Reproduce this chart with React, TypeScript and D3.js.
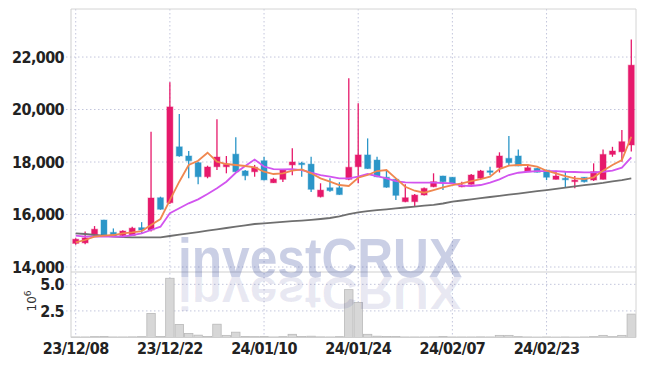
import React from "react";
import * as d3 from "d3";

const dates = [
  "23/12/08","23/12/11","23/12/12","23/12/13","23/12/14","23/12/15","23/12/18","23/12/19","23/12/20","23/12/21",
  "23/12/22","23/12/26","23/12/27","23/12/28","24/01/02","24/01/03","24/01/04","24/01/05","24/01/08","24/01/09",
  "24/01/10","24/01/11","24/01/12","24/01/15","24/01/16","24/01/17","24/01/18","24/01/19","24/01/22","24/01/23",
  "24/01/24","24/01/25","24/01/26","24/01/29","24/01/30","24/01/31","24/02/01","24/02/02","24/02/05","24/02/06",
  "24/02/07","24/02/08","24/02/13","24/02/14","24/02/15","24/02/16","24/02/19","24/02/20","24/02/21","24/02/22",
  "24/02/23","24/02/26","24/02/27","24/02/28","24/02/29","24/03/04","24/03/05","24/03/06","24/03/07","24/03/08",
];
const xTickDates = ["23/12/08", "23/12/22", "24/01/10", "24/01/24", "24/02/07", "24/02/23"];

const opens = [14900,14920,15230,15790,15320,15200,15200,15500,15410,16640,16450,18580,18230,17975,17440,17820,17820,18300,17660,17630,
  18050,17210,17340,17890,17960,17920,16680,17020,17020,17340,17820,18270,18075,17420,17340,16490,16490,16745,17060,17467,
  17420,17060,17150,17380,17665,17790,18140,18230,17632,17760,17695,17340,17380,17275,17417,17314,17340,18290,18390,18650];
const highs = [15100,15350,15560,15800,15470,15400,15530,15710,19150,16680,21040,19830,18420,18000,17860,19630,18230,18940,17700,17890,
  18200,17400,17720,18520,18010,18200,17190,17380,17230,21190,20240,18900,18200,17660,17350,17150,16780,17030,17570,17480,
  17430,17250,17540,17700,17820,18370,18990,18480,17924,17770,17700,17670,17630,17470,17430,17950,18480,18580,19220,22670];
const lows = [14850,14870,15150,15200,15150,15180,15180,15300,15350,16180,16400,18200,17380,17150,17380,17700,17570,17620,17310,17440,
  17300,17200,17240,17500,17440,16860,16650,16870,16750,17310,17190,17740,17420,17020,16550,16470,16300,16720,17040,16930,
  17180,17040,17140,17330,17500,17600,17890,17840,17620,17600,17310,17330,17040,17000,17220,17280,17330,18200,18010,18400];
const closes = [15060,15110,15440,15220,15180,15370,15480,15410,16630,16200,20100,18230,18050,17440,17810,18190,17910,17630,17480,17800,
  17320,17350,17700,18000,17900,16960,16930,16910,16760,17800,18270,17750,17440,17040,16730,16640,16740,16995,17250,17250,
  17190,17125,17505,17660,17640,18230,17975,17850,17784,17610,17420,17467,17345,17310,17250,17632,18290,18420,18775,21690];
const volumes = [0.05,0.05,0.08,0.1,0.05,0.05,0.06,0.08,2.26,0.1,5.57,1.23,0.38,0.22,0.1,1.25,0.2,0.5,0.1,0.08,
  0.1,0.05,0.08,0.3,0.1,0.12,0.06,0.05,0.08,4.5,3.3,0.3,0.12,0.1,0.1,0.05,0.05,0.05,0.06,0.1,
  0.05,0.05,0.05,0.06,0.05,0.2,0.2,0.08,0.05,0.04,0.05,0.04,0.05,0.04,0.05,0.08,0.2,0.08,0.2,2.2];
const ma5 = [14941,15029,15154,15192,15219,15284,15322,15371,15600,15829,16552,17250,17886,18050,18355,18012,17924,17886,17848,17798,
  17630,17543,17570,17669,17722,17570,17379,17250,17124,17086,17402,17505,17657,17695,17379,17059,16907,16831,16933,17036,
  17124,17188,17276,17352,17440,17733,17859,17886,17886,17821,17669,17570,17467,17379,17352,17417,17669,17886,18076,18964];
const ma20 = [15192,15154,15154,15154,15154,15154,15219,15284,15410,15535,16046,16236,16427,16579,16781,16998,17250,17592,17848,18095,
  17829,17733,17722,17733,17695,17592,17505,17440,17379,17379,17440,17543,17467,17379,17276,17227,17212,17212,17212,17200,
  17189,17097,17086,17124,17212,17341,17505,17592,17630,17657,17657,17657,17630,17619,17608,17608,17630,17669,17783,18179];
const ma120 = [15284,15257,15219,15192,15162,15143,15131,15131,15131,15131,15181,15230,15284,15333,15383,15436,15486,15535,15589,15638,
  15665,15692,15718,15745,15771,15798,15829,15867,15932,16019,16084,16126,16164,16198,16233,16267,16301,16335,16370,16420,
  16488,16534,16575,16621,16667,16712,16758,16800,16846,16891,16933,16979,17025,17070,17116,17162,17204,17260,17310,17380];
const priceTicks = [14000, 16000, 18000, 20000, 22000];
const volTicks = [2.5, 5.0];

const UP = "#e6196b";
const DOWN = "#2b96c8";
const GRID = "#c3c6dc";
const FONT = "'Liberation Sans Narrow', 'DejaVu Sans Condensed', sans-serif";

export default function App() {
  const left = 71, right = 636, top = 9, priceBottom = 272, volBottom = 337.5;
  const n = dates.length;
  const x = d3.scaleLinear().domain([-0.5, n - 0.5]).range([left, right]);
  const y = d3.scaleLinear().domain([13810, 23830]).range([priceBottom, top]);
  const yv = d3.scaleLinear().domain([0, 6.16]).range([volBottom, priceBottom]);
  const step = x(1) - x(0);
  const bodyW = 6;
  const fmt = d3.format(",");
  const vfmt = d3.format(".1f");

  const mkLine = (vals: number[]) =>
    d3.line<number>().x((_, i) => x(i)).y((v) => y(v))(vals) || "";

  const idx = d3.range(n);

  return (
    <svg width={645} height={366} style={{ position: "absolute", left: 0, top: 0, background: "#fff" }}>
      <defs>
        <text id="wm" x={178} y={277} textLength={284} lengthAdjust="spacingAndGlyphs"
          fontFamily="'Liberation Sans', Arial, sans-serif" fontWeight="bold" fontSize={55}>investCRUX</text>
      </defs>
      {/* grid */}
      {priceTicks.map((t) => (
        <line key={"pg" + t} x1={66} x2={right} y1={y(t)} y2={y(t)} stroke={GRID} strokeWidth={1} strokeDasharray="1.5,2.5" />
      ))}
      {volTicks.map((t) => (
        <line key={"vg" + t} x1={66} x2={right} y1={yv(t)} y2={yv(t)} stroke={GRID} strokeWidth={1} strokeDasharray="1.5,2.5" />
      ))}
      {xTickDates.map((d) => {
        const i = dates.indexOf(d);
        return (
          <line key={"xg" + d} x1={x(i)} x2={x(i)} y1={top} y2={volBottom} stroke={GRID} strokeWidth={1} strokeDasharray="1.5,2.5" />
        );
      })}

      {/* volume bars */}
      {idx.map((i) => (
        <rect key={"v" + i} x={x(i) - step / 2 + 0.5} width={step - 1} y={yv(volumes[i])} height={volBottom - yv(volumes[i])}
          fill="#d7d7d7" stroke="#b9b9b9" strokeWidth={0.8} />
      ))}

      {/* frame */}
      <line x1={left} x2={right} y1={top} y2={top} stroke="#d4d4d4" />
      <line x1={right} x2={right} y1={top} y2={volBottom} stroke="#d4d4d4" />
      <line x1={left} x2={left} y1={top} y2={volBottom} stroke="#cfcfcf" />
      <line x1={left} x2={right} y1={priceBottom} y2={priceBottom} stroke="#cfcfcf" />
      <line x1={left} x2={right} y1={volBottom} y2={volBottom} stroke="#cfcfcf" />

      {/* candles */}
      {idx.map((i) => {
        const up = closes[i] >= opens[i];
        const c = up ? UP : DOWN;
        const yTop = y(Math.max(opens[i], closes[i]));
        const yBot = y(Math.min(opens[i], closes[i]));
        return (
          <g key={"c" + i}>
            <line x1={x(i)} x2={x(i)} y1={y(highs[i])} y2={y(lows[i])} stroke={c} strokeWidth={1.3} />
            <rect x={x(i) - bodyW / 2} width={bodyW} y={yTop} height={Math.max(1.5, yBot - yTop)} fill={c}
              stroke={c} strokeOpacity={0.35} strokeWidth={1.2} />
          </g>
        );
      })}

      {/* moving averages */}
      <path d={mkLine(ma120)} fill="none" stroke="#6f6f6f" strokeWidth={1.8} />
      <path d={mkLine(ma20)} fill="none" stroke="#d254ef" strokeWidth={1.8} />
      <path d={mkLine(ma5)} fill="none" stroke="#f0874f" strokeWidth={1.8} />

      {/* watermark */}
      <use href="#wm" fill="#3a4fa0" fillOpacity={0.27} />
      <use href="#wm" fill="#4a4a98" fillOpacity={0.12} transform="translate(0,277) scale(1,-0.85) translate(0,-277)" />

      {/* price axis labels */}
      {priceTicks.map((t) => (
        <text key={"pl" + t} x={64} y={y(t)} dy="0.36em" textAnchor="end" fontFamily={FONT} fontSize={16}
          fontWeight="bold" letterSpacing={-0.6} fill="#222">{fmt(t)}</text>
      ))}
      {volTicks.map((t) => (
        <text key={"vl" + t} x={64} y={yv(t)} dy="0.36em" textAnchor="end" fontFamily={FONT} fontSize={16}
          fontWeight="bold" letterSpacing={-0.6} fill="#222">{vfmt(t)}</text>
      ))}
      <text transform="translate(36,301) rotate(-90)" textAnchor="middle" fontFamily="'DejaVu Sans', sans-serif" fontSize={12} fill="#333">
        10<tspan dy={-5} fontSize={9}>6</tspan>
      </text>

      {/* date labels */}
      {xTickDates.map((d) => {
        const i = dates.indexOf(d);
        return (
          <text key={"xl" + d} x={x(i)} y={354} textAnchor="middle" fontFamily={FONT} fontSize={16}
            fontWeight="bold" letterSpacing={-0.6} fill="#222">{d}</text>
        );
      })}
    </svg>
  );
}
